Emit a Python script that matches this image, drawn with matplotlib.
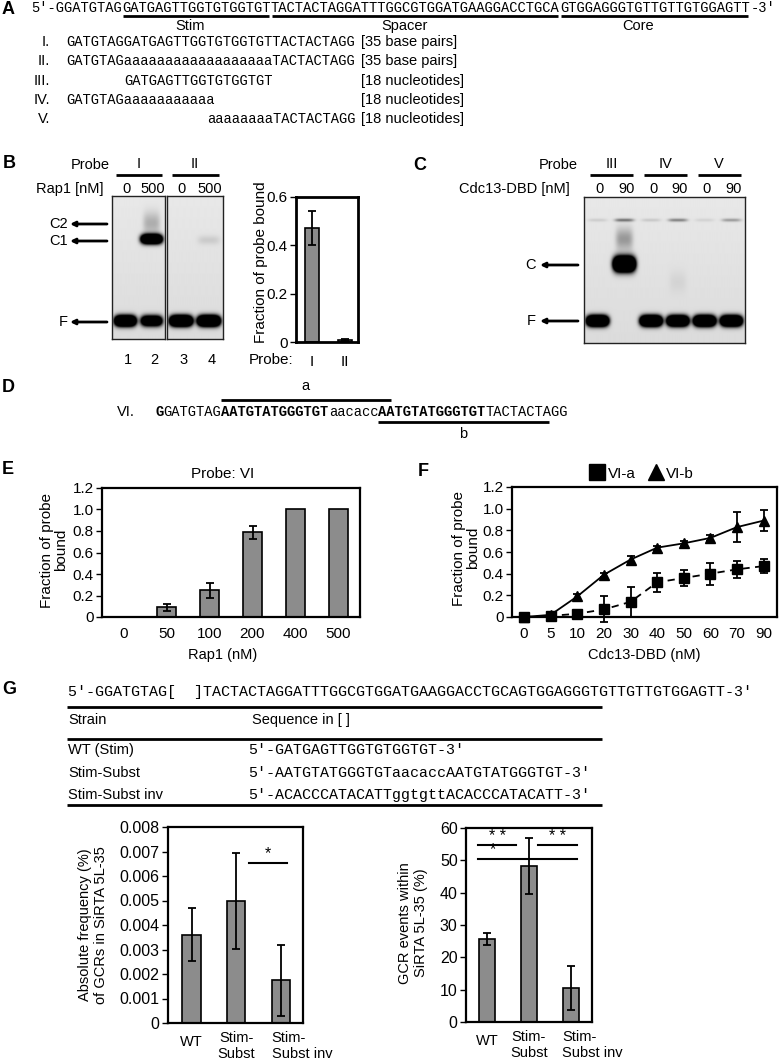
import numpy as np
import matplotlib
matplotlib.use("Agg")
import matplotlib.pyplot as plt
import matplotlib.transforms as mtransforms
from matplotlib.lines import Line2D

W, H = 780, 1062
SANS = ["Liberation Sans", "DejaVu Sans"]
MONO = ["Liberation Mono", "DejaVu Sans Mono"]
BAR = "#8c8c8c"

# --- panel A: SiRTA sequence and probes
SEQ_PARTS = ["5′-GGATGTAG", "GATGAGTTGGTGTGGTGT",
             "TACTACTAGGATTTGGCGTGGATGAAGGACCTGCA",
             "GTGGAGGGTGTTGTTGTGGAGTT", "-3′"]
SEQ_LABELS = ["Stim", "Spacer", "Core"]
PROBE_NAMES = ["I.", "II.", "III.", "IV.", "V."]
PROBE_SEQS = ["GATGTAGGATGAGTTGGTGTGGTGTTACTACTAGG",
              "GATGTAGaaaaaaaaaaaaaaaaaaTACTACTAGG",
              "GATGAGTTGGTGTGGTGT",
              "GATGTAGaaaaaaaaaaa",
              "aaaaaaaaTACTACTAGG"]
PROBE_OFFSETS = [0, 0, 7, 0, 17]
PROBE_SIZES = ["[35 base pairs]", "[35 base pairs]", "[18 nucleotides]",
               "[18 nucleotides]", "[18 nucleotides]"]

# --- panel B: Rap1 EMSA
B_PROBES = ["I", "II"]
B_LANE_CONC = ["0", "500", "0", "500"]
B_LANE_NUM = ["1", "2", "3", "4"]
B_FRACTION = [0.47, 0.01]
B_ERR = [0.07, 0.004]
# bands: (lane, kind, migration px from well, strength)
GEL_B_LEFT = [(1, "free", 125, 3.0), (2, "free", 125, 2.2),
              (2, "complex", 43, 2.8), (2, "smear", 27, 0.22)]
GEL_B_RIGHT = [(1, "free", 125, 3.2), (2, "free", 125, 3.2),
               (2, "complex", 44, 0.10)]

# --- panel C: Cdc13-DBD EMSA
C_PROBES = ["III", "IV", "V"]
C_LANE_CONC = ["0", "90", "0", "90", "0", "90"]
GEL_C = [(1, "free", 124, 3.2), (3, "free", 124, 3.2), (4, "free", 124, 3.0),
         (5, "free", 124, 3.2), (6, "free", 124, 3.0),
         (2, "complexC", 67, 3.5), (2, "smear", 42, 0.30),
         (2, "well", 23, 0.45), (4, "well", 23, 0.40), (6, "well", 23, 0.30),
         (1, "well", 23, 0.10), (3, "well", 23, 0.12), (5, "well", 23, 0.08),
         (4, "smear", 85, 0.05)]
BAND_SHAPES = {"free": (0.40, 5.0), "complex": (0.40, 4.5),
               "complexC": (0.40, 7.0), "smear": (0.32, 11.0),
               "well": (0.36, 1.6)}

# --- panel D: probe VI
D_PARTS = [("G", "bold"), ("GATGTAG", "normal"), ("AATGTATGGGTGT", "bold"),
           ("aacacc", "normal"), ("AATGTATGGGTGT", "bold"), ("TACTACTAGG", "normal")]

# --- panel E
E_CONC = ["0", "50", "100", "200", "400", "500"]
E_FRACTION = [0.0, 0.09, 0.25, 0.79, 1.0, 1.0]
E_ERR = [0.0, 0.03, 0.07, 0.06, 0.0, 0.0]

# --- panel F
F_CONC = ["0", "5", "10", "20", "30", "40", "50", "60", "70", "90"]
F_A = [0.0, 0.01, 0.03, 0.07, 0.14, 0.32, 0.36, 0.40, 0.44, 0.47]
F_A_ERR = [0.0, 0.02, 0.03, 0.12, 0.14, 0.09, 0.07, 0.10, 0.08, 0.065]
F_B = [0.0, 0.02, 0.19, 0.39, 0.53, 0.64, 0.68, 0.73, 0.83, 0.89]
F_B_ERR = [0.0, 0.01, 0.02, 0.02, 0.03, 0.02, 0.02, 0.03, 0.14, 0.10]

# --- panel G
G_SEQ = "5′-GGATGTAG[  ]TACTACTAGGATTTGGCGTGGATGAAGGACCTGCAGTGGAGGGTGTTGTTGTGGAGTT-3′"
G_TABLE_STRAINS = ["WT (Stim)", "Stim-Subst", "Stim-Subst inv"]
G_TABLE_SEQS = ["5′-GATGAGTTGGTGTGGTGT-3′",
                "5′-AATGTATGGGTGTaacaccAATGTATGGGTGT-3′",
                "5′-ACACCCATACATTggtgttACACCCATACATT-3′"]
G_STRAINS = ["WT", "Stim-\nSubst", "Stim-\nSubst inv"]
G_ABS = [0.0036, 0.00497, 0.00175]
G_ABS_ERR = [0.00108, 0.00195, 0.00145]
G_PCT = [25.7, 48.2, 10.4]
G_PCT_ERR = [1.8, 8.7, 6.8]


def px_axes(fig, left, top, right, bottom):
    return fig.add_axes([left / W, 1 - bottom / H, (right - left) / W, (bottom - top) / H])


def style_axes(ax, size=11):
    for s in ax.spines.values():
        s.set_linewidth(1.6)
    ax.tick_params(axis="y", direction="out", length=4, width=1.0, labelsize=size, pad=2)
    ax.tick_params(axis="x", length=0, labelsize=size)
    for lab in ax.get_xticklabels() + ax.get_yticklabels():
        lab.set_family(SANS)


def strain_labels(fig, ax, size):
    # category labels under the GCR bars; the last one hangs left-aligned
    ax.set_xticks(range(len(G_STRAINS)))
    ax.set_xticklabels(G_STRAINS, fontsize=size, family=SANS, linespacing=1.15)
    ax.tick_params(axis="x", pad=6)
    labs = ax.get_xticklabels()
    labs[0].set_transform(labs[0].get_transform() +
                          mtransforms.ScaledTranslation(0, -4 / 100, fig.dpi_scale_trans))
    labs[-1].set_ha("left")
    labs[-1].set_multialignment("left")
    labs[-1].set_transform(labs[-1].get_transform() +
                           mtransforms.ScaledTranslation(-9 / 100, 0, fig.dpi_scale_trans))


def gel(fig, left, top, right, bottom, n_lanes, bands):
    ax = px_axes(fig, left, top, right, bottom)
    h = bottom - top
    xs = np.linspace(0.5, n_lanes + 0.5, n_lanes * 60)
    ys = np.linspace(0, h, h * 3)
    X, Y = np.meshgrid(xs, ys)
    dark = np.full(X.shape, 0.09) + 0.05 * Y / h
    for lane, kind, pos, strength in bands:
        wx, wy = BAND_SHAPES[kind]
        dark += strength * np.exp(-np.abs((X - lane) / wx) ** 4 - ((Y - pos) / wy) ** 2)
    ax.imshow(np.clip(dark, 0, 1), cmap="gray_r", vmin=0, vmax=1, aspect="auto",
              extent=(0.5, n_lanes + 0.5, h, 0), interpolation="bilinear")
    ax.set_xticks([])
    ax.set_yticks([])
    for s in ax.spines.values():
        s.set_linewidth(1.0)
        s.set_color("#222222")
    return ax


def main():
    fig = plt.figure(figsize=(W / 100, H / 100), dpi=100)
    canvas = fig.add_axes([0, 0, 1, 1], zorder=10)
    canvas.set_xlim(0, W)
    canvas.set_ylim(H, 0)
    canvas.axis("off")

    def txt(x, y, s, size=10.5, **kw):
        kw.setdefault("va", "center")
        kw.setdefault("family", SANS)
        canvas.text(x, y, s, fontsize=size, **kw)

    def hline(x0, x1, y, lw=2.0):
        canvas.plot([x0, x1], [y, y], color="k", lw=lw, solid_capstyle="butt")

    def arrow(x_from, x_to, y):
        canvas.annotate("", xy=(x_to, y), xytext=(x_from, y),
                        arrowprops=dict(arrowstyle="-|>", lw=2.0, color="k",
                                        mutation_scale=7, shrinkA=0, shrinkB=0))

    # panel letters
    for letter, x, y in [("A", 2, 10), ("B", 3, 163), ("C", 413, 165), ("D", 2, 387),
                         ("E", 2, 470), ("F", 418, 472), ("G", 2, 690)]:
        txt(x, y, letter, size=13, weight="bold", ha="left")

    # ---- A
    cw = 8.27
    x0 = 31
    idx = 0
    starts = []
    for part in SEQ_PARTS:
        starts.append(idx)
        txt(x0 + idx * cw, 8, part, size=9.9, family=MONO, ha="left")
        idx += len(part)
    for k, label_x in enumerate([190, 405, 638]):
        a = starts[k + 1]
        b = a + len(SEQ_PARTS[k + 1])
        hline(x0 + a * cw + 1, x0 + b * cw - 2, 15.5)
        txt(label_x, 26, SEQ_LABELS[k], size=10.5, ha="center")
    rows_y = [42, 61, 81, 100, 119]
    for name, seq, off, size, y in zip(PROBE_NAMES, PROBE_SEQS, PROBE_OFFSETS, PROBE_SIZES, rows_y):
        txt(50, y, name, size=10.5, ha="right")
        txt(66.7 + off * cw, y, seq, size=9.9, family=MONO, ha="left")
        txt(361, y, size, size=10.5, ha="left")

    # ---- B gels
    gel(fig, 112, 196, 165, 339, 2, GEL_B_LEFT)
    gel(fig, 167, 196, 223, 339, 2, GEL_B_RIGHT)
    lanes_b = [112 + 53 * 0.25, 112 + 53 * 0.75, 167 + 56 * 0.25, 167 + 56 * 0.75]
    txt(110, 165, "Probe", size=10.5, ha="right")
    txt(103, 189, "Rap1 [nM]", size=10.5, ha="right")
    for k, probe in enumerate(B_PROBES):
        xa, xb = lanes_b[2 * k], lanes_b[2 * k + 1]
        hline(xa - 9, xb + 10, 175)
        txt((xa + xb) / 2, 164, probe, size=10.5, ha="center")
    for x, conc, num in zip(lanes_b, B_LANE_CONC, B_LANE_NUM):
        txt(x + 1, 189, conc, size=10.5, ha="center")
        txt(x + 3, 360, num, size=10.5, ha="center")
    for lab, y in [("C2", 224), ("C1", 241), ("F", 322)]:
        txt(68, y, lab, size=10.5, ha="right")
        arrow(107, 70, y)

    # ---- B bar chart
    ax = px_axes(fig, 296, 197, 358, 342)
    ax.bar(range(2), B_FRACTION, width=0.42, color=BAR, edgecolor="k", lw=1.2,
           yerr=B_ERR, capsize=3, error_kw=dict(elinewidth=1.3, capthick=1.3))
    ax.set_xlim(-0.48, 1.4)
    ax.set_ylim(0, 0.6)
    ax.set_yticks([0, 0.2, 0.4, 0.6])
    ax.set_yticklabels(["0", "0.2", "0.4", "0.6"])
    ax.set_xticks(range(2))
    ax.set_xticklabels(B_PROBES)
    style_axes(ax, 11)
    for s in ax.spines.values():
        s.set_linewidth(2.0)
    ax.tick_params(axis="x", pad=9)
    txt(271, 360, "Probe:", size=11, ha="center")
    txt(261, 262, "Fraction of probe bound", size=11, ha="center", rotation=90)

    # ---- C gel
    gel(fig, 584, 197, 745, 343, 6, GEL_C)
    lane_w = (745 - 584) / 6
    lanes_c = [584 + lane_w * (k + 0.5) for k in range(6)]
    txt(578, 165, "Probe", size=10.5, ha="right")
    txt(570, 189, "Cdc13-DBD [nM]", size=10.5, ha="right")
    for k, probe in enumerate(C_PROBES):
        xa, xb = lanes_c[2 * k], lanes_c[2 * k + 1]
        hline(xa - 7, xb + 9, 175)
        txt((xa + xb) / 2 + 1, 164, probe, size=10.5, ha="center")
    for x, conc in zip(lanes_c, C_LANE_CONC):
        txt(x + 2, 189, conc, size=10.5, ha="center")
    for lab, y in [("C", 265), ("F", 321)]:
        txt(536, y, lab, size=10.5, ha="right")
        arrow(578, 540, y)

    # ---- D
    x0d = 155
    txt(135, 412, "VI.", size=10.5, ha="right")
    idx = 0
    for part, weight in D_PARTS:
        txt(x0d + idx * cw, 412, part, size=9.9, family=MONO, ha="left", weight=weight)
        idx += len(part)
    hline(x0d + 8 * cw, x0d + 28.5 * cw, 400)
    txt(x0d + 18.25 * cw, 386, "a", size=10.5, ha="center")
    hline(x0d + 27 * cw, x0d + 47.7 * cw, 422)
    txt(x0d + 37.3 * cw, 434, "b", size=10.5, ha="center")

    # ---- E
    ax = px_axes(fig, 102, 488, 360, 617)
    xe = np.arange(len(E_CONC))
    ax.bar(xe, E_FRACTION, width=0.46, color=BAR, edgecolor="k", lw=1.2)
    has_err = [i for i, e in enumerate(E_ERR) if e > 0]
    ax.errorbar(xe[has_err], [E_FRACTION[i] for i in has_err], yerr=[E_ERR[i] for i in has_err],
                fmt="none", ecolor="k", elinewidth=1.3, capsize=3, capthick=1.3)
    ax.set_xlim(-0.5, 5.5)
    ax.set_ylim(0, 1.2)
    ax.set_yticks(np.arange(0, 1.21, 0.2))
    ax.set_yticklabels(["0", "0.2", "0.4", "0.6", "0.8", "1.0", "1.2"])
    ax.set_xticks(xe)
    ax.set_xticklabels(E_CONC)
    style_axes(ax, 11)
    ax.tick_params(axis="x", pad=7)
    txt(223, 474, "Probe: VI", size=11, ha="center")
    txt(223, 655, "Rap1 (nM)", size=10.5, ha="center")
    txt(54, 550, "Fraction of probe\nbound", size=11, ha="center", rotation=90,
        linespacing=1.0, multialignment="center")

    # ---- F
    ax = px_axes(fig, 512, 487, 777, 617)
    xf = np.arange(len(F_CONC))
    ax.errorbar(xf, F_B, yerr=F_B_ERR, fmt="none", ecolor="k", elinewidth=1.3,
                capsize=3, capthick=1.3, clip_on=False)
    ax.errorbar(xf, F_A, yerr=F_A_ERR, fmt="none", ecolor="k", elinewidth=1.3,
                capsize=3, capthick=1.3, clip_on=False)
    ax.plot(xf, F_B, color="k", lw=1.3, marker="^", ms=7, clip_on=False, zorder=3)
    ax.plot(xf, F_A, color="k", lw=1.3, ls=(0, (4, 3)), zorder=3)
    ax.plot(xf, F_A, color="k", ls="none", marker="s", ms=6.5, clip_on=False, zorder=4)
    ax.set_xlim(-0.45, 9.5)
    ax.set_ylim(0, 1.2)
    ax.set_yticks(np.arange(0, 1.21, 0.2))
    ax.set_yticklabels(["0", "0.2", "0.4", "0.6", "0.8", "1.0", "1.2"])
    ax.set_xticks(xf)
    ax.set_xticklabels(F_CONC)
    style_axes(ax, 11)
    ax.tick_params(axis="x", pad=7)
    handles = [Line2D([], [], color="k", ls="none", marker="s", ms=11, label="VI-a"),
               Line2D([], [], color="k", ls="none", marker="^", ms=12, label="VI-b")]
    ax.legend(handles=handles, ncol=2, loc="lower center", bbox_to_anchor=(0.49, 0.99),
              frameon=False, handletextpad=0.2, columnspacing=0.8, handlelength=1.0,
              prop={"family": SANS, "size": 11}, borderaxespad=0.1)
    txt(644, 655, "Cdc13-DBD (nM)", size=10.5, ha="center")
    txt(466, 548, "Fraction of probe\nbound", size=11, ha="center", rotation=90,
        linespacing=1.0, multialignment="center")

    # ---- G sequence and table
    txt(68, 692, G_SEQ, size=10.8, family=MONO, ha="left")
    hline(67, 602, 707)
    hline(67, 602, 739)
    hline(67, 602, 805)
    txt(68, 720, "Strain", size=10.5, ha="left")
    txt(252, 720, "Sequence in [ ]", size=10.5, ha="left")
    for strain, seq, y in zip(G_TABLE_STRAINS, G_TABLE_SEQS, [750, 773, 795]):
        txt(68, y, strain, size=10.5, ha="left")
        txt(248, y, seq, size=10.8, family=MONO, ha="left")

    # ---- G left bars
    xg = np.arange(3)
    ax = px_axes(fig, 168, 827, 303, 1023)
    ax.bar(xg, G_ABS, width=0.41, color=BAR, edgecolor="k", lw=1.2, yerr=G_ABS_ERR,
           capsize=3, error_kw=dict(elinewidth=1.3, capthick=1.3))
    ax.set_xlim(-0.53, 2.5)
    ax.set_ylim(0, 0.008)
    ax.set_yticks(np.arange(0, 0.00801, 0.001))
    ax.set_yticklabels(["0"] + ["0.00%d" % k for k in range(1, 9)])
    style_axes(ax, 11.5)
    strain_labels(fig, ax, 10.5)
    ax.plot([1.28, 2.13], [0.00653, 0.00653], color="k", lw=1.5)
    ax.text(1.71, 0.0066, "*", ha="center", va="bottom", fontsize=11.5, family=SANS)
    txt(93, 925, "Absolute frequency (%)\nof GCRs in SiRTA 5L-35", size=10.5, ha="center",
        rotation=90, linespacing=1.15, multialignment="center")

    # ---- G right bars
    ax = px_axes(fig, 466, 828, 592, 1022)
    ax.bar(xg, G_PCT, width=0.4, color=BAR, edgecolor="k", lw=1.2, yerr=G_PCT_ERR,
           capsize=3, error_kw=dict(elinewidth=1.3, capthick=1.3))
    ax.set_xlim(-0.5, 2.5)
    ax.set_ylim(0, 60)
    ax.set_yticks(np.arange(0, 61, 10))
    style_axes(ax, 11.5)
    strain_labels(fig, ax, 10.5)
    for xa, xb, y, star, xs in [(-0.21, 0.69, 54.7, "* *", 0.24),
                                (1.21, 2.14, 54.7, "* *", 1.68),
                                (-0.21, 2.14, 50.4, "*", 0.14)]:
        ax.plot([xa, xb], [y, y], color="k", lw=1.5)
        ax.text(xs, y + 0.5, star, ha="center", va="bottom", fontsize=11.5, family=SANS)
    txt(413, 923, "GCR events within\nSiRTA 5L-35 (%)", size=10.5, ha="center",
        rotation=90, linespacing=1.15, multialignment="center")

    fig.savefig("out.png", dpi=100)


if __name__ == "__main__":
    main()
